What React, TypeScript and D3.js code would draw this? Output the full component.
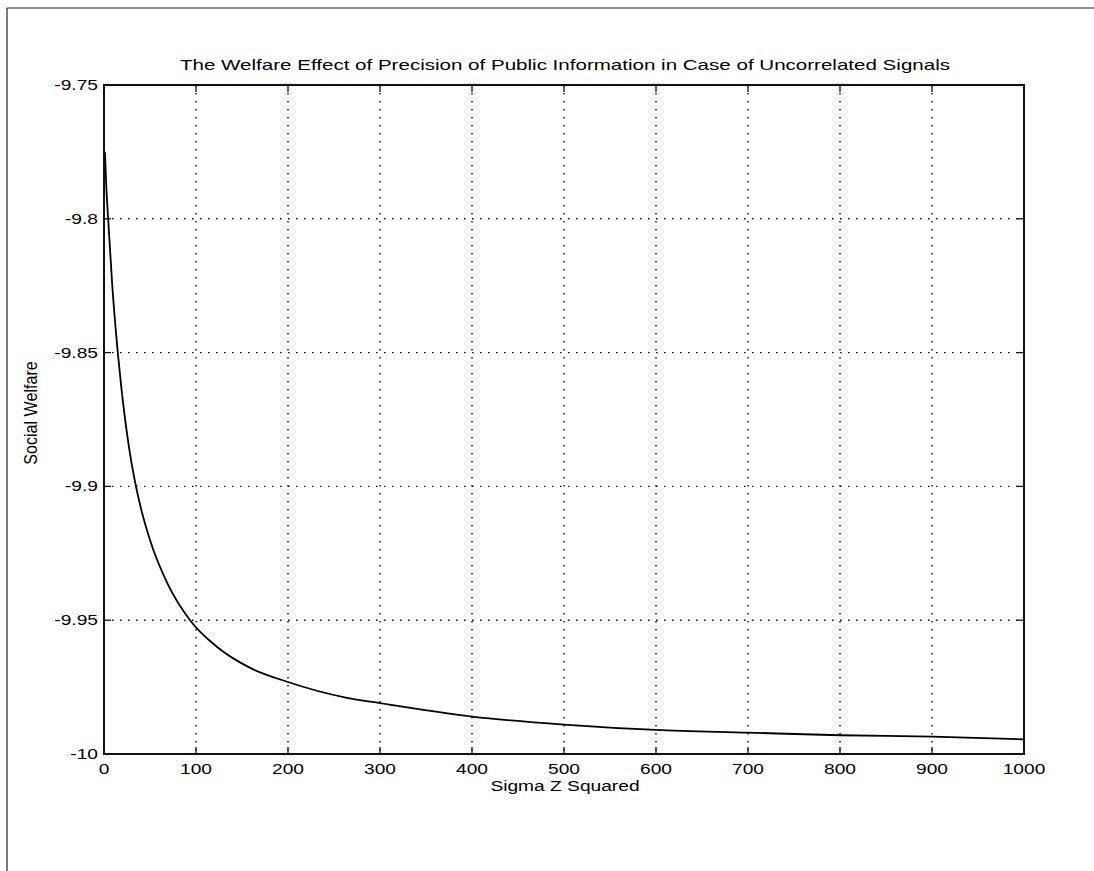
import React from "react";
import * as d3 from "d3";

const TITLE = "The Welfare Effect of Precision of Public Information in Case of Uncorrelated Signals";
const X_LABEL = "Sigma Z Squared";
const Y_LABEL = "Social Welfare";

const xTicks = [0, 100, 200, 300, 400, 500, 600, 700, 800, 900, 1000];
const yTicks = [-9.75, -9.8, -9.85, -9.9, -9.95, -10];
const yTickLabels = ["-9.75", "-9.8", "-9.85", "-9.9", "-9.95", "-10"];

// Values
const sigmaZ2 = [1, 2.5, 4.5, 9, 15, 18.5, 27, 33, 40, 50, 70, 93.5, 123, 160, 199, 264, 300, 400, 500, 600, 700, 800, 900, 1000];
const welfare = [-9.775, -9.788, -9.8, -9.825, -9.85, -9.862, -9.885, -9.897, -9.908, -9.920, -9.937, -9.950, -9.960, -9.968, -9.973, -9.979, -9.981, -9.986, -9.989, -9.991, -9.992, -9.993, -9.9935, -9.9945];

const W = 1094, H = 871;
const L = 104, R = 1024, T = 85, B = 754;
const SX = 1.37;

export default function App() {
  const x = d3.scaleLinear().domain([0, 1000]).range([L, R]);
  const y = d3.scaleLinear().domain([-10, -9.75]).range([B, T]);
  const pts = sigmaZ2.map((v, i) => [v, welfare[i]] as [number, number]);
  const line = d3.line<[number, number]>().x(d => x(d[0])).y(d => y(d[1])).curve(d3.curveMonotoneX);
  const font = "'Liberation Sans', Arial, sans-serif";
  const txt = (s: string, tx: number, ty: number, anchor: string, size: number, key?: any) => (
    <text key={key} transform={`translate(${tx},${ty}) scale(${SX},1)`}
      textAnchor={anchor} fontSize={size} fontFamily={font} fill="#000">{s}</text>
  );
  return (
    <svg width={W} height={H} style={{ position: "absolute", left: 0, top: 0, background: "#fff" }}>
      <rect x={0} y={0} width={W} height={H} fill="#fff" />
      {/* outer frame */}
      <line x1={7} y1={8} x2={W} y2={8} stroke="#222" strokeWidth={1.2} />
      <line x1={7} y1={8} x2={7} y2={H} stroke="#222" strokeWidth={1.2} />
      {/* grid */}
      {xTicks.slice(1, -1).map(t => (
        <line key={"gx" + t} x1={x(t)} x2={x(t)} y1={T} y2={B} stroke="#111" strokeWidth={1.4} strokeDasharray="1.6,6.4" />
      ))}
      {yTicks.slice(1, -1).map(t => (
        <line key={"gy" + t} x1={L} x2={R} y1={y(t)} y2={y(t)} stroke="#111" strokeWidth={1.4} strokeDasharray="1.6,6.4" />
      ))}
      {/* ticks */}
      {xTicks.map(t => (
        <g key={"tx" + t}>
          <line x1={x(t)} x2={x(t)} y1={B} y2={B - 7} stroke="#111" strokeWidth={1.3} />
          <line x1={x(t)} x2={x(t)} y1={T} y2={T + 7} stroke="#111" strokeWidth={1.3} />
        </g>
      ))}
      {yTicks.map(t => (
        <g key={"ty" + t}>
          <line x1={L} x2={L + 7} y1={y(t)} y2={y(t)} stroke="#111" strokeWidth={1.3} />
          <line x1={R} x2={R - 7} y1={y(t)} y2={y(t)} stroke="#111" strokeWidth={1.3} />
        </g>
      ))}
      {/* curve */}
      <path d={line(pts) || ""} fill="none" stroke="#000" strokeWidth={1.8} />
      {/* axes box */}
      <rect x={L} y={T} width={R - L} height={B - T} fill="none" stroke="#111" strokeWidth={2} />
      {/* tick labels */}
      {xTicks.map((t, i) => txt(String(t), x(t), 774, "middle", 14, "xl" + i))}
      {yTicks.map((t, i) => txt(yTickLabels[i], 98, y(t) + 5, "end", 14, "yl" + i))}
      {txt(TITLE, (L + R) / 2 + 1, 70, "middle", 15)}
      {txt(X_LABEL, 565, 791, "middle", 14)}
      <text transform={`translate(37,413) rotate(-90) scale(1.15,1.35)`} textAnchor="middle"
        fontSize={14} fontFamily={font} fill="#000">{Y_LABEL}</text>
    </svg>
  );
}
